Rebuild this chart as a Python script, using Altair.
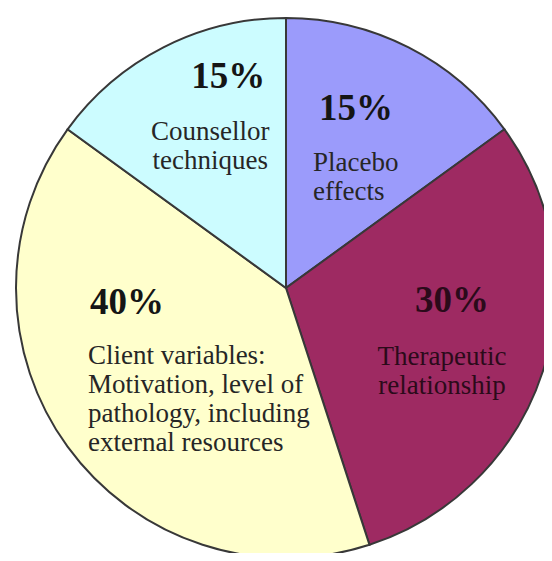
import altair as alt
import pandas as pd

# ---- data ----
categories = ["Placebo effects", "Therapeutic relationship", "Client variables", "Counsellor techniques"]
shares = [15, 30, 40, 15]
pct_labels = ["15%", "30%", "40%", "15%"]
desc_labels = [
    "Placebo\neffects",
    "Therapeutic\nrelationship",
    "Client variables:\nMotivation, level of\npathology, including\nexternal resources",
    "Counsellor\ntechniques",
]
colors = ["#9B9BFB", "#9E2A62", "#FFFFCC", "#CCFCFF"]

df = pd.DataFrame({
    "cat": categories,
    "share": shares,
    "pct": pct_labels,
    "desc": desc_labels,
    "idx": list(range(len(categories))),
})

CX, CY, R = 278, 280, 270
FONT = "Liberation Serif"

base = alt.Chart(df).encode(
    theta=alt.Theta("share:Q", stack=True),
    order=alt.Order("idx:Q"),
)

pie = base.mark_arc(outerRadius=R, stroke="#383838", strokeWidth=2).encode(
    color=alt.Color("cat:N", scale=alt.Scale(domain=categories, range=colors), legend=None),
    x=alt.value(CX),
    y=alt.value(CY),
)


def label(cat, field, radius, dx, dy, size, bold, align, color):
    expr = f"datum.cat == '{cat}' ? datum.{field} : ''"
    return base.transform_calculate(lbl=expr).mark_text(
        radius=radius, dx=dx, dy=dy, fontSize=size,
        fontWeight="bold" if bold else "normal", font=FONT,
        align=align, baseline="alphabetic", lineBreak="\n", lineHeight=29,
        color=color,
    ).encode(
        x=alt.value(CX),
        y=alt.value(CY),
        text=alt.Text("lbl:N"),
    )


PCT_SIZE = 37
DESC_SIZE = 27
dark = "#151515"
desc_col = "#262626"
maroon_txt = "#2b0a1a"

layers = [
    pie,
    # Placebo
    label("Placebo effects", "pct", 150, 2, -34, PCT_SIZE, True, "center", dark),
    label("Placebo effects", "desc", 150, -41, 17, DESC_SIZE, False, "left", desc_col),
    # Therapeutic
    label("Therapeutic relationship", "pct", 165, 9, -27, PCT_SIZE, True, "center", maroon_txt),
    label("Therapeutic relationship", "desc", 165, -1, 26, DESC_SIZE, False, "center", maroon_txt),
    # Client
    label("Client variables", "pct", 120, -99, -45, PCT_SIZE, True, "left", dark),
    label("Client variables", "desc", 120, -101, 5, DESC_SIZE, False, "left", desc_col),
    # Counsellor
    label("Counsellor techniques", "pct", 180, 24, -40, PCT_SIZE, True, "center", dark),
    label("Counsellor techniques", "desc", 180, 6, 12, DESC_SIZE, False, "center", desc_col),
]

chart = alt.layer(*layers).properties(
    width=536,
    height=545,
    autosize=alt.AutoSizeParams(type="none"),
    padding=0,
    background="white",
).configure_view(strokeOpacity=0)

chart.save("out.html", embed_options={"renderer": "svg", "actions": False})
